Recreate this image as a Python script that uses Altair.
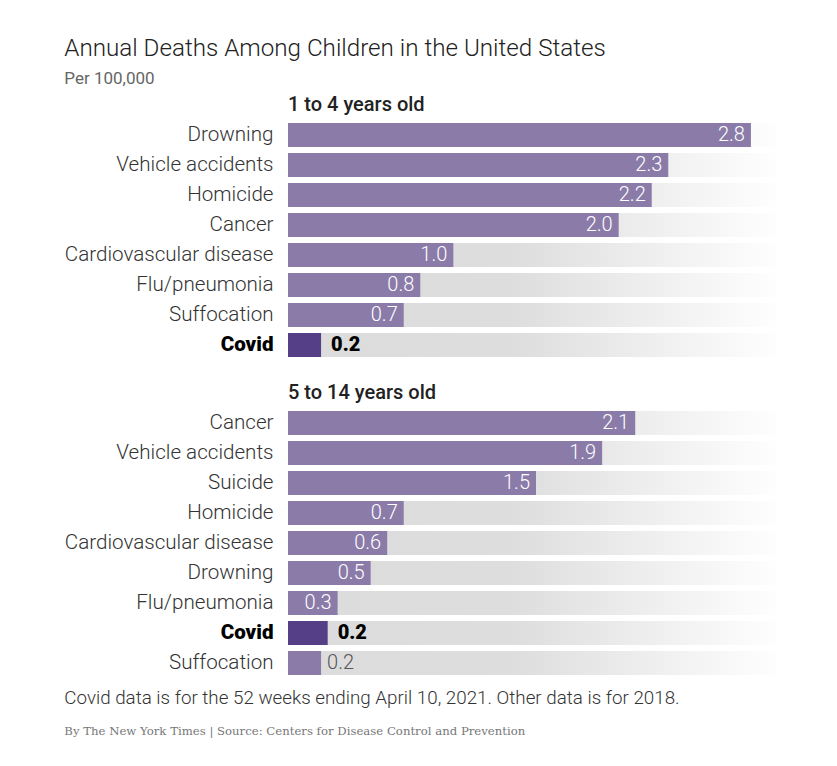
import altair as alt
import pandas as pd

# ---- data ----
causes_1_4 = ["Drowning", "Vehicle accidents", "Homicide", "Cancer",
              "Cardiovascular disease", "Flu/pneumonia", "Suffocation", "Covid"]
values_1_4 = [2.8, 2.3, 2.2, 2.0, 1.0, 0.8, 0.7, 0.2]
labels_1_4 = ["2.8", "2.3", "2.2", "2.0", "1.0", "0.8", "0.7", "0.2"]

causes_5_14 = ["Cancer", "Vehicle accidents", "Suicide", "Homicide",
               "Cardiovascular disease", "Drowning", "Flu/pneumonia", "Covid", "Suffocation"]
values_5_14 = [2.1, 1.9, 1.5, 0.7, 0.6, 0.5, 0.3, 0.24, 0.2]
labels_5_14 = ["2.1", "1.9", "1.5", "0.7", "0.6", "0.5", "0.3", "0.2", "0.2"]

title_text = "Annual Deaths Among Children in the United States"
subtitle_text = "Per 100,000"
group_titles = ["1 to 4 years old", "5 to 14 years old"]
note_text = "Covid data is for the 52 weeks ending April 10, 2021. Other data is for 2018."
source_text = "By The New York Times | Source: Centers for Disease Control and Prevention"

X_MAX = 3.0
FONT = "Roboto"
BAR = "#8a7ba8"
COVID = "#553f86"


def make_df(causes, values, labels):
    df = pd.DataFrame({"cause": causes, "value": values, "label": labels})
    df["covid"] = df["cause"] == "Covid"
    df["inside"] = (~df["covid"]) & (df["value"] >= 0.3)
    df["bg"] = X_MAX
    return df


def panel(causes, values, labels, header):
    df = make_df(causes, values, labels)
    y = alt.Y("cause:N", sort=causes, title=None,
              scale=alt.Scale(paddingInner=0.2, paddingOuter=0.1),
              axis=alt.Axis(domain=False, ticks=False, labelPadding=15,
                            labelFont=FONT, labelFontSize=20.6,
                            labelColor=alt.condition("datum.value == 'Covid'", alt.value("#000000"), alt.value("#333333")),
                            labelFontWeight=alt.condition("datum.value == 'Covid'", alt.value(900), alt.value(300)),
                            labelLimit=400))
    x_scale = alt.Scale(domain=[0, X_MAX], nice=False, zero=True)
    xv = alt.X("value:Q", scale=x_scale, axis=None)
    base = alt.Chart(df)
    bg = base.mark_bar(
        color=alt.Gradient(gradient="linear", x1=0, x2=1, y1=0, y2=0,
                           stops=[alt.GradientStop(color="#dcdcdc", offset=0),
                                  alt.GradientStop(color="#dddddd", offset=0.45),
                                  alt.GradientStop(color="#ffffff", offset=1)])
    ).encode(x=alt.X("bg:Q", scale=x_scale, axis=None), y=y)
    bars = base.mark_bar().encode(
        x=xv, y=y,
        color=alt.condition("datum.covid", alt.value(COVID), alt.value(BAR)))
    inside = base.transform_filter("datum.inside").mark_text(
        align="right", dx=-6, font=FONT, fontSize=20, fontWeight=300, color="white"
    ).encode(x=xv, y=y, text="label:N")
    outside = base.transform_filter("!datum.inside && !datum.covid").mark_text(
        align="left", dx=6, font=FONT, fontSize=20, fontWeight=300, color="#555555"
    ).encode(x=xv, y=y, text="label:N")
    covid = base.transform_filter("datum.covid").mark_text(
        align="left", dx=10, font=FONT, fontSize=20, fontWeight=900, color="#000000"
    ).encode(x=xv, y=y, text="label:N")
    return alt.layer(bg, bars, inside, outside, covid).properties(
        width=496, height=30 * len(causes),
        title=alt.TitleParams(header, anchor="start", frame="group", font=FONT,
                              fontSize=20, fontWeight=500, color="#222222", offset=5))


p1 = panel(causes_1_4, values_1_4, labels_1_4, group_titles[0])
p2 = panel(causes_5_14, values_5_14, labels_5_14, group_titles[1])

inner = alt.vconcat(p1, p2, spacing=23).properties(
    title=alt.TitleParams(note_text, subtitle=source_text, orient="bottom", anchor="start",
                          frame="bounds", font=FONT, fontSize=18.8, fontWeight=300, color="#333333",
                          subtitleFont="DejaVu Serif", subtitleFontSize=11.7, subtitleColor="#777777",
                          subtitlePadding=18, offset=11))

chart = alt.vconcat(inner).properties(
    title=alt.TitleParams(title_text, subtitle=subtitle_text, anchor="start", frame="bounds",
                          font=FONT, fontSize=24.2, fontWeight=300, color="#222222",
                          subtitleFont=FONT, subtitleFontSize=17, subtitleColor="#666666",
                          subtitlePadding=10, offset=8),
    padding={"left": 56, "top": 28, "right": 10, "bottom": 10}
).configure(background="white").configure_view(stroke="transparent", strokeWidth=0)

chart.save("out.html", embed_options={"renderer": "svg", "actions": False})
